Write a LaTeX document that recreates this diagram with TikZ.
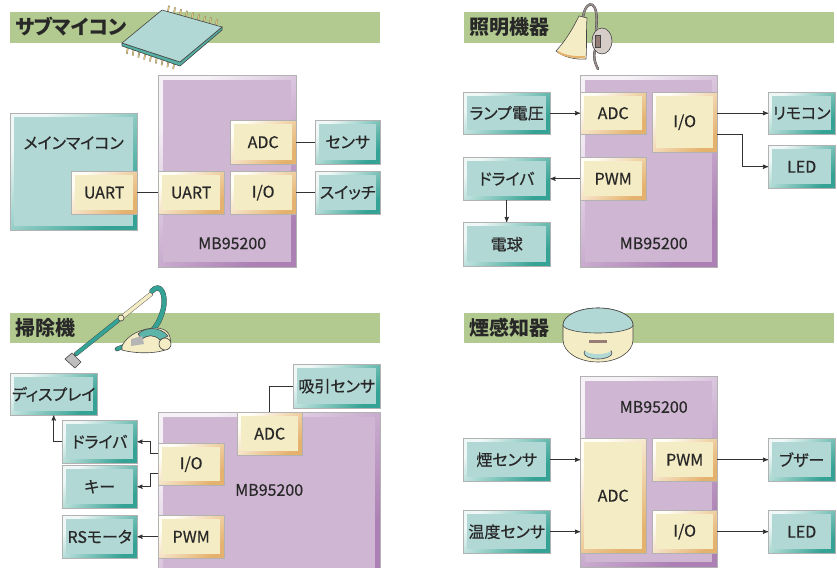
\documentclass[tikz,border=0pt]{standalone}
\usepackage{fontspec}
\setmainfont[RawFeature=+palt]{Noto Sans CJK JP}
\newfontfamily\boxfont[RawFeature=+palt, FakeBold=0.5]{Noto Sans CJK JP}
\usetikzlibrary{arrows, calc}

\definecolor{barGreen}{RGB}{178,202,143}
\definecolor{txtGray}{RGB}{40,40,40}
\definecolor{wireGray}{RGB}{50,50,50}
\definecolor{inkGray}{RGB}{70,70,70}
\definecolor{extFace}{RGB}{177,216,212}
\definecolor{extLight}{RGB}{240,248,247}
\definecolor{extDark}{RGB}{52,162,148}
\definecolor{perFace}{RGB}{244,236,196}
\definecolor{perLight}{RGB}{255,253,246}
\definecolor{perDark}{RGB}{229,178,110}
\definecolor{mcuFace}{RGB}{207,182,211}
\definecolor{mcuLight}{RGB}{246,241,247}
\definecolor{mcuDark}{RGB}{172,128,180}
\definecolor{pinTan}{RGB}{222,196,120}
\definecolor{armGray}{RGB}{150,140,138}
\definecolor{plateGray}{RGB}{215,205,200}
\definecolor{knobBrown}{RGB}{150,125,118}

\tikzset{
  >=stealth',
  every node/.style={text=txtGray, inner sep=0pt, font=\boxfont\fontsize{16}{19}\selectfont},
  wh/.style 2 args={minimum width=#1pt, minimum height=#2pt, anchor=north west},
  bevel/.style n args={4}{top color=#1, bottom color=#2, shading angle=45,
    draw=black!30, line width=0.4pt,
    path picture={\fill[#3] ([shift={(#4,-#4)}]path picture bounding box.north west)
      rectangle ([shift={(-#4,#4)}]path picture bounding box.south east);}},
  ext/.style={bevel={extLight}{extDark}{extFace}{4pt}},
  per/.style={bevel={perLight}{perDark}{perFace}{4pt}},
  mcu/.style={bevel={mcuLight}{mcuDark}{mcuFace}{5pt}},
  title/.style={anchor=west, font=\fontsize{20}{24}\selectfont\bfseries},
  wire/.style={draw=wireGray, line width=0.9pt},
  ink/.style={draw=inkGray, line width=0.6pt},
  pin/.style={draw=inkGray!80, line width=0.25pt, double=pinTan, double distance=1.1pt},
  tube/.style={draw=inkGray, line width=0.4pt, double distance=3.6pt, line cap=round},
}

\begin{document}
\begin{tikzpicture}[x=1pt, y=-1pt]
  \clip (0,0) rectangle (837,567);

  % title bars
  \fill[barGreen] (10,12) rectangle (380,43);
  \fill[barGreen] (464,12) rectangle (834,43);
  \fill[barGreen] (10,313) rectangle (380,343);
  \fill[barGreen] (464,313) rectangle (834,343);
  \node[title] (t1) at (15,27) {サブマイコン};
  \node[title] (t2) at (469,27) {照明機器};
  \node[title] (t3) at (15,328) {掃除機};
  \node[title] (t4) at (469,328) {煙感知器};

  % chip
  \foreach \t in {0.1,0.2,...,0.91} {
    \draw[pin] ($(162,10)!\t!(222,27)$) -- ++(1,-6);
    \draw[pin] ($(122,46)!\t!(180,65)$) -- ++(-1,6);
  }
  \filldraw[fill=extDark!85, ink] (122,43) -- (180,62) -- (222,27) -- (222,30)
    -- (180,66) -- (122,46) -- cycle;
  \filldraw[fill=extFace, ink] (162,10) -- (222,27) -- (180,62) -- (122,43) -- cycle;

  % wall lamp
  \draw[tube, double=armGray, double distance=1.6pt] (583,17) .. controls (586,-2) and (600,-1) .. (596,30);
  \draw[tube, double=armGray, double distance=1.6pt] (595,50) .. controls (593,58) and (595,63) .. (598,69);
  \filldraw[fill=plateGray, ink] (602,41) ellipse (10pt and 13pt);
  \filldraw[fill=knobBrown, ink] (595,35) rectangle (600,47);
  \filldraw[fill=perFace, ink] (579,16) .. controls (572,30) and (566,40) .. (556,51)
    .. controls (563,57) and (576,60) .. (586,59)
    .. controls (587,45) and (586,30) .. (587,18) -- cycle;
  \draw[perDark, line width=2pt] (558,52) .. controls (564,56) and (576,58) .. (585,57);

  % vacuum cleaner
  \draw[tube, double=extDark] (76,354) -- (121,318);
  \draw[tube, double=perFace] (121,318) -- (151,294);
  \filldraw[fill=perFace, ink] (121,318) circle (3pt);
  \draw[tube, double=extDark, double distance=4.4pt] (152,291) .. controls (160,282) and (167,294) .. (163,310)
    .. controls (160,320) and (157,326) .. (151,332);
  \filldraw[fill=inkGray!35, ink] (65,359) -- (72,353) -- (81,362) -- (75,368) -- cycle;
  \draw[tube, double=extDark] (117,349) -- (132,343);
  \filldraw[fill=perFace, ink] (122,346) .. controls (127,335) and (142,328) .. (156,328)
    .. controls (169,328) and (173,338) .. (169,348)
    .. controls (160,354) and (136,354) .. (122,350) -- cycle;
  \filldraw[fill=extDark!80, ink] (138,334) .. controls (145,327) and (160,326) .. (168,336)
    -- (160,340) .. controls (154,334) and (147,335) .. (142,339) -- cycle;
  \fill[inkGray!40] (131,339) -- (142,336) -- (144,344) -- (131,346) -- cycle;
  \filldraw[fill=perFace, ink] (165,344) circle (6pt);

  % smoke detector
  \filldraw[fill=perFace, ink] (563,325) arc[start angle=180, end angle=0, x radius=35pt, y radius=17pt]
    -- (633,340) arc[start angle=0, end angle=-180, x radius=35pt, y radius=22pt] -- cycle;
  \filldraw[fill=extFace, ink] (563,325) arc[start angle=180, end angle=0, x radius=35pt, y radius=17pt]
    arc[start angle=0, end angle=-180, x radius=35pt, y radius=8pt] -- cycle;
  \filldraw[fill=extFace, ink] (598,353) ellipse (14pt and 6pt);
  \fill[perFace] (598,350) ellipse (13pt and 4pt);
  \fill[knobBrown] (589,340) rectangle (607,342.5);

  % sub MCU blocks
  \node[mcu, wh={138}{192}, label={[anchor=center, xshift=5pt, yshift=24pt]south:MB95200}] (mcuA) at (158,75) {};
  \node[ext, wh={127}{117}, label={[anchor=center, yshift=-30pt]north:メインマイコン}] (host) at (10,113) {};
  \node[per, wh={66}{43}] (uartH) at (71,171) {UART};
  \node[per, wh={66}{43}] (uartA) at (158,171) {UART};
  \node[per, wh={66}{44}] (adcA) at (230,120) {ADC};
  \node[per, wh={66}{43}] (ioA) at (230,171) {I/O};
  \node[ext, wh={65}{44}] (sens) at (315,120) {センサ};
  \node[ext, wh={65}{43}] (swit) at (315,171) {スイッチ};

  \draw[wire] (uartH) -- (uartA);
  \draw[wire] (adcA) -- (sens);
  \draw[wire] (ioA) -- (swit);

  % lighting blocks
  \node[mcu, wh={137}{192}, label={[anchor=center, xshift=5pt, yshift=24pt]south:MB95200}] (mcuB) at (580,75) {};
  \node[ext, wh={87}{42}] (lampv) at (463,92) {ランプ電圧};
  \node[per, wh={66}{42}] (adcB) at (580,92) {ADC};
  \node[per, wh={65}{60}] (ioB) at (652,92) {I/O};
  \node[per, wh={66}{43}] (pwmB) at (580,157) {PWM};
  \node[ext, wh={87}{43}] (drvB) at (463,157) {ドライバ};
  \node[ext, wh={87}{44}] (bulb) at (463,222) {電球};
  \node[ext, wh={67}{42}] (remote) at (768,92) {リモコン};
  \node[ext, wh={67}{43}] (ledB) at (768,145) {LED};

  \draw[wire, ->] (lampv) -- (adcB);
  \draw[wire, ->] (pwmB) -- (drvB);
  \draw[wire, ->] (drvB) -- (bulb);
  \draw[wire, ->] (ioB.east |- remote) -- (remote);
  \draw[wire, ->] ([yshift=18pt]ioB.south east) -- ++(25,0) |- (ledB);

  % vacuum blocks
  \node[mcu, wh={222}{162}, label={[anchor=center, yshift=-78pt]north:MB95200}] (mcuC) at (158,412) {};
  \node[ext, wh={87}{42}] (disp) at (10,373) {ディスプレイ};
  \node[ext, wh={87}{44}] (suct) at (293,364) {吸引センサ};
  \node[per, wh={65}{43}] (adcC) at (237,412) {ADC};
  \node[per, wh={66}{42}] (ioC) at (158,443) {I/O};
  \node[per, wh={66}{43}] (pwmC) at (158,515) {PWM};
  \node[ext, wh={75}{43}] (drvC) at (62,420) {ドライバ};
  \node[ext, wh={75}{43}] (key) at (62,465) {キー};
  \node[ext, wh={75}{43}] (motor) at (62,515) {RSモータ};

  \draw[wire] (adcC) |- (suct);
  \draw[wire, ->] ([yshift=11pt]ioC.west) -- ++(-8,0) |- (drvC);
  \draw[wire, ->] ([yshift=-9pt]ioC.west) -- ++(-8,0) |- (key);
  \draw[wire, ->] (drvC) -| (disp);
  \draw[wire, ->] (pwmC) -- (motor);

  % smoke detector blocks
  \node[mcu, wh={137}{191}, label={[anchor=center, xshift=5pt, yshift=-31pt]north:MB95200}] (mcuD) at (580,376) {};
  \node[per, wh={66}{115}] (adcD) at (580,438) {ADC};
  \node[per, wh={65}{43}] (pwmD) at (652,438) {PWM};
  \node[per, wh={65}{43}] (ioD) at (652,510) {I/O};
  \node[ext, wh={87}{43}] (smoke) at (463,438) {煙センサ};
  \node[ext, wh={87}{43}] (temp) at (463,510) {温度センサ};
  \node[ext, wh={67}{43}] (buzz) at (768,438) {ブザー};
  \node[ext, wh={67}{43}] (ledD) at (768,510) {LED};

  \draw[wire, ->] (smoke) -- (smoke -| adcD.west);
  \draw[wire, ->] (temp) -- (temp -| adcD.west);
  \draw[wire, ->] (pwmD) -- (buzz);
  \draw[wire, ->] (ioD) -- (ledD);
\end{tikzpicture}
\end{document}
